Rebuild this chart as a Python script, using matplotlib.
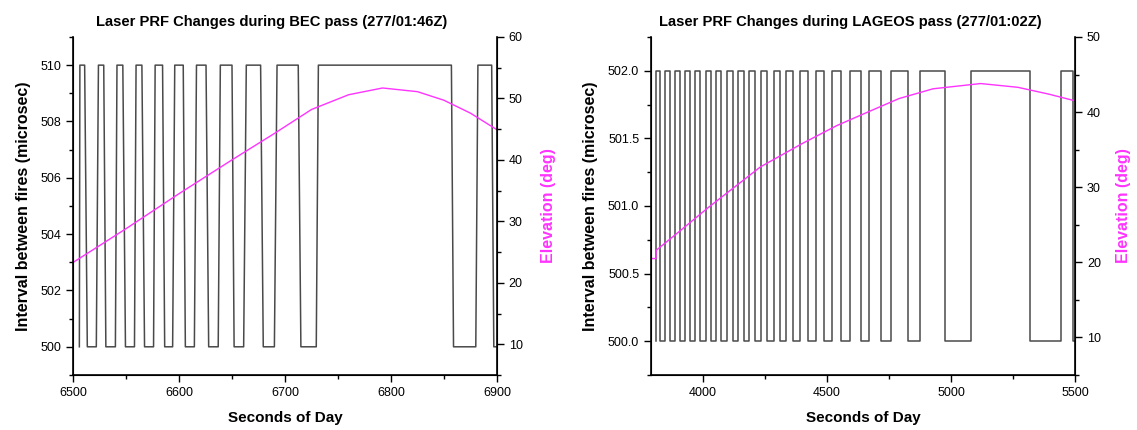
import matplotlib.pyplot as plt
from matplotlib.ticker import MultipleLocator, FormatStrFormatter

plt.rcParams['font.family'] = ['Liberation Sans', 'DejaVu Sans']

# BEC pass: corner points of the PRF trace (seconds of day, microsec)
bec_t = [6506, 6506.5, 6511, 6513.5, 6522, 6524, 6529, 6531, 6540, 6541.5, 6547, 6549.5,
         6558, 6559.5, 6565, 6567.5, 6576, 6577.5, 6584.5, 6586.5, 6594, 6596, 6604, 6606,
         6614.5, 6616.5, 6625.5, 6628, 6637, 6639, 6650, 6652, 6661, 6663.5, 6677, 6679.5,
         6690, 6692.5, 6712.5, 6715, 6729.5, 6731.5, 6857, 6859, 6880, 6882, 6895, 6897, 6899]
bec_prf = [500, 510, 510, 500, 500, 510, 510, 500, 500, 510, 510, 500,
           500, 510, 510, 500, 500, 510, 510, 500, 500, 510, 510, 500,
           500, 510, 510, 500, 500, 510, 510, 500, 500, 510, 510, 500,
           500, 510, 510, 500, 500, 510, 510, 500, 500, 510, 510, 500, 500]
bec_el_t = [6500, 6550, 6600, 6650, 6690, 6725, 6760, 6792, 6825, 6850, 6875, 6900]
bec_el = [23.3, 28.8, 34.5, 40.0, 44.3, 48.2, 50.6, 51.7, 51.1, 49.7, 47.6, 44.9]

# LAGEOS pass: PRF switch times (step trace)
lag_t = [3810, 3811, 3828, 3846, 3867, 3885, 3906, 3926, 3948, 3968, 3989, 4010, 4031,
         4052, 4074, 4095, 4119, 4140, 4164, 4186, 4210, 4234, 4259, 4284, 4311, 4336,
         4364, 4392, 4424, 4455, 4486, 4518, 4556, 4593, 4635, 4670, 4716, 4757, 4826,
         4874, 4977, 5079, 5320, 5443, 5491, 5498]
lag_prf = [500.0, 502.0, 500.0, 502.0, 500.0, 502.0, 500.0, 502.0, 500.0, 502.0, 500.0, 502.0, 500.0,
           502.0, 500.0, 502.0, 500.0, 502.0, 500.0, 502.0, 500.0, 502.0, 500.0, 502.0, 500.0, 502.0,
           500.0, 502.0, 500.0, 502.0, 500.0, 502.0, 500.0, 502.0, 500.0, 502.0, 500.0, 502.0, 500.0,
           502.0, 500.0, 502.0, 500.0, 502.0, 500.0, 500.0]
lag_el_t = [3790, 3810, 3811, 3900, 4021, 4231, 4399, 4539, 4650, 4790, 4927, 5119, 5269, 5393, 5500]
lag_el = [20.5, 20.5, 21.6, 24.0, 27.3, 32.7, 35.8, 38.2, 39.8, 41.8, 43.1, 43.8, 43.3, 42.4, 41.5]

GRIS = '#4a4a4a'
ROSA = '#ff33ff'


def estilo(ax, ax2, pad_el):
    for a in (ax, ax2):
        a.spines['top'].set_visible(False)
        a.tick_params(which='major', direction='out', length=5, width=1, labelsize=9)
        a.tick_params(which='minor', direction='out', length=3, width=1)
    ax.spines['left'].set_linewidth(1.2)
    ax.spines['bottom'].set_linewidth(1.2)
    ax2.spines['right'].set_linewidth(1.2)
    ax.set_xlabel('Seconds of Day', fontsize=11, fontweight='bold', labelpad=9)
    ax.set_ylabel('Interval between fires (microsec)', fontsize=11.5, fontweight='bold', labelpad=7)
    ax2.set_ylabel('Elevation (deg)', fontsize=11.5, fontweight='bold', color=ROSA, labelpad=pad_el)


fig = plt.figure(figsize=(11.37, 4.30), dpi=100)

# --- panel izquierdo: BEC
ax = fig.add_axes([0.0642, 0.128, 0.3729, 0.786])
ax2 = ax.twinx()
ax.plot(bec_t, bec_prf, color=GRIS, lw=1.1)
ax2.plot(bec_el_t, bec_el, color=ROSA, lw=1.0)
ax.set_xlim(6500, 6900)
ax.set_ylim(499, 511)
ax2.set_ylim(5, 60)
ax.xaxis.set_major_locator(MultipleLocator(100))
ax.xaxis.set_minor_locator(MultipleLocator(50))
ax.yaxis.set_major_locator(MultipleLocator(2))
ax.yaxis.set_minor_locator(MultipleLocator(1))
ax2.yaxis.set_major_locator(MultipleLocator(10))
ax2.yaxis.set_minor_locator(MultipleLocator(5))
ax.set_title('Laser PRF Changes during BEC pass (277/01:46Z)', fontsize=10.6,
             fontweight='bold', pad=8, x=0.469)
estilo(ax, ax2, 13)

# --- panel derecho: LAGEOS
bx = fig.add_axes([0.5726, 0.128, 0.3729, 0.786])
bx2 = bx.twinx()
bx.step(lag_t, lag_prf, where='post', color=GRIS, lw=1.1)
bx2.plot(lag_el_t, lag_el, color=ROSA, lw=1.0)
bx.set_xlim(3790, 5500)
bx.set_ylim(499.75, 502.25)
bx2.set_ylim(5, 50)
bx.xaxis.set_major_locator(MultipleLocator(500))
bx.xaxis.set_minor_locator(MultipleLocator(250))
bx.yaxis.set_major_locator(MultipleLocator(0.5))
bx.yaxis.set_minor_locator(MultipleLocator(0.25))
bx.yaxis.set_major_formatter(FormatStrFormatter('%.1f'))
bx2.yaxis.set_major_locator(MultipleLocator(10))
bx2.yaxis.set_minor_locator(MultipleLocator(5))
bx.set_title('Laser PRF Changes during LAGEOS pass (277/01:02Z)', fontsize=10.6,
             fontweight='bold', pad=8, x=0.469)
estilo(bx, bx2, 11)

fig.savefig('out.png', dpi=100)
